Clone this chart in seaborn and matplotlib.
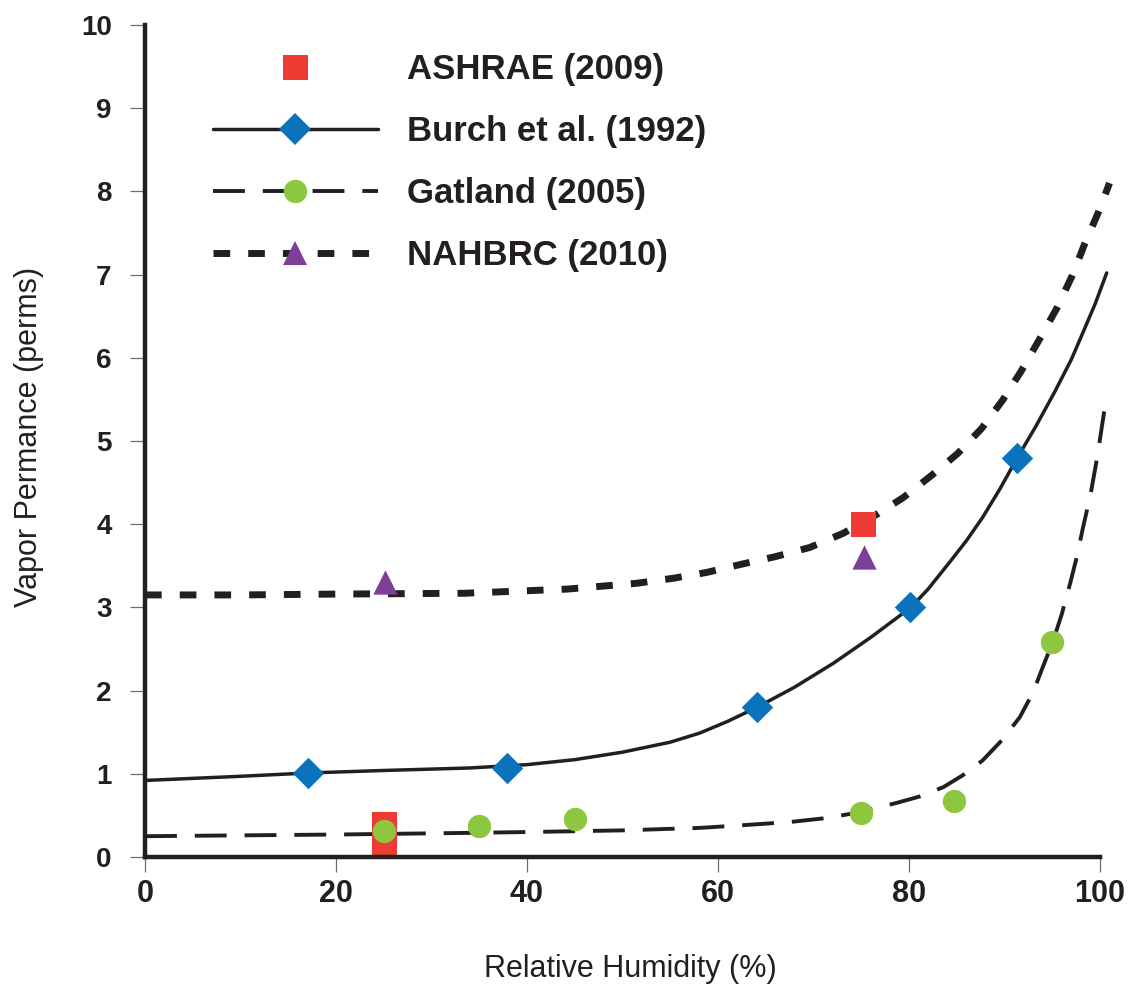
import matplotlib
matplotlib.use("Agg")
import matplotlib.pyplot as plt
from matplotlib.lines import Line2D
import seaborn as sns

# Measured data points (relative humidity %, vapor permeance perms)
ashrae_rh = [25, 25, 75.2]
ashrae_perm = [0.17, 0.40, 4.00]

burch_rh = [17.1, 37.9, 64.1, 80.1, 91.3]
burch_perm = [1.01, 1.07, 1.80, 3.00, 4.79]

gatland_rh = [25, 35, 45, 75, 84.7, 95]
gatland_perm = [0.31, 0.37, 0.46, 0.53, 0.67, 2.59]

nahbrc_rh = [25.1, 75.3]
nahbrc_perm = [3.31, 3.61]

# Trend curves
burch_curve_rh = [0, 10, 17.1, 25, 34, 40, 45, 50, 55, 58.1, 61, 64.1, 68, 72.1, 76,
                  80.2, 82, 84.3, 86, 87.7, 89.5, 91.3, 93.3, 95.3, 97, 98.2, 99.5, 100.7]
burch_curve_perm = [0.92, 0.97, 1.01, 1.04, 1.07, 1.11, 1.17, 1.26, 1.38, 1.49, 1.63,
                    1.80, 2.04, 2.33, 2.64, 3.00, 3.22, 3.55, 3.80, 4.08, 4.42, 4.79,
                    5.18, 5.60, 5.98, 6.30, 6.65, 7.02]

gatland_curve_rh = [0, 10, 20, 34, 40, 50, 58.1, 62.3, 67.5, 71.5, 74.9, 78.7, 81.2,
                    83.6, 85.6, 87.7, 89.7, 91.6, 93.0, 94.0, 95.1, 96.0, 96.9, 97.6,
                    98.2, 99.0, 99.7, 100.7]
gatland_curve_perm = [0.25, 0.26, 0.27, 0.29, 0.30, 0.32, 0.35, 0.38, 0.42, 0.47, 0.54,
                      0.65, 0.73, 0.84, 0.98, 1.16, 1.40, 1.68, 1.98, 2.28, 2.60, 2.92,
                      3.30, 3.62, 3.95, 4.35, 4.80, 5.55]

nahbrc_curve_rh = [0, 10, 20, 33.5, 44.2, 51.5, 55.3, 58.8, 62.5, 66, 69.6, 73.1, 76.8,
                   79.4, 82.4, 85.1, 87.6, 89.8, 91.8, 93.7, 95.5, 97.1, 98.4, 99.8, 101.0]
nahbrc_curve_perm = [3.15, 3.15, 3.16, 3.17, 3.22, 3.29, 3.35, 3.42, 3.52, 3.61, 3.72,
                     3.89, 4.13, 4.32, 4.59, 4.85, 5.15, 5.49, 5.85, 6.23, 6.60, 6.99,
                     7.37, 7.74, 8.10]

x_ticks = [0, 20, 40, 60, 80, 100]
y_ticks = [0, 1, 2, 3, 4, 5, 6, 7, 8, 9, 10]

labels = ["ASHRAE (2009)", "Burch et al. (1992)", "Gatland (2005)", "NAHBRC (2010)"]

RED = "#EE3B33"
BLUE = "#0B72BC"
GREEN = "#8DC63F"
PURPLE = "#7D3F98"
INK = "#231F20"

sns.set_theme(style="ticks")
plt.rcParams["font.family"] = ["Liberation Sans", "DejaVu Sans"]

fig = plt.figure(figsize=(11.28, 9.89), dpi=100)
ax = fig.add_axes([145 / 1128, 1 - 857 / 989, 955 / 1128, 832 / 989])

solid_lw = 2.5
gat_lw = 2.8
gat_dash = (8.2, 4.6)
nah_lw = 5.0
nah_dash = (2.4, 2.6)

# Curves
sns.lineplot(x=burch_curve_rh, y=burch_curve_perm, ax=ax, color=INK,
             linewidth=solid_lw, estimator=None)
sns.lineplot(x=gatland_curve_rh, y=gatland_curve_perm, ax=ax, color=INK,
             linewidth=gat_lw, estimator=None)
sns.lineplot(x=nahbrc_curve_rh, y=nahbrc_curve_perm, ax=ax, color=INK,
             linewidth=nah_lw, estimator=None)
l_burch, l_gat, l_nah = ax.lines[-3:]
l_gat.set_dashes(gat_dash)
l_gat.set_dash_capstyle("butt")
l_nah.set_dashes(nah_dash)
l_nah.set_dash_capstyle("butt")
for ln in (l_burch, l_gat, l_nah):
    ln.set_clip_on(False)
    ln.set_zorder(2)
    ln.set_solid_joinstyle("round")

# Markers
sns.scatterplot(x=ashrae_rh, y=ashrae_perm, ax=ax, marker="s", s=18 ** 2,
                color=RED, linewidth=0, zorder=3, clip_on=False)
sns.scatterplot(x=burch_rh, y=burch_perm, ax=ax, marker="D", s=16 ** 2,
                color=BLUE, linewidth=0, zorder=4, clip_on=False)
sns.scatterplot(x=gatland_rh, y=gatland_perm, ax=ax, marker="o", s=16.8 ** 2,
                color=GREEN, linewidth=0, zorder=4, clip_on=False)
sns.scatterplot(x=nahbrc_rh, y=nahbrc_perm, ax=ax, marker="^", s=17.5 ** 2,
                color=PURPLE, linewidth=0, zorder=4, clip_on=False)

ax.set_xlim(0, 100)
ax.set_ylim(0, 10)
ax.set_xticks(x_ticks)
ax.set_yticks(y_ticks)
ax.set_xticklabels([str(v) for v in x_ticks], fontsize=22, fontweight="bold", color=INK)
ax.set_yticklabels([str(v) for v in y_ticks], fontsize=20, fontweight="bold", color=INK)

sns.despine(ax=ax)
for side in ("left", "bottom"):
    ax.spines[side].set_linewidth(3.2)
    ax.spines[side].set_color(INK)
    ax.spines[side].set_zorder(5)

ax.tick_params(axis="y", direction="out", length=11, width=0.9, color="#6d6d6d", pad=13)
ax.tick_params(axis="x", direction="out", length=11, width=0.9, color="#6d6d6d", pad=5)

ax.set_xlabel("Relative Humidity (%)", fontsize=22, color=INK)
ax.set_ylabel("Vapor Permance (perms)", fontsize=22, color=INK)
ax.xaxis.set_label_coords(0.508, -0.116)
ax.yaxis.set_label_coords(-0.106, 0.505)

# Legend
handles = [
    Line2D([], [], linestyle="none", marker="s", markersize=18, color=RED,
           markeredgewidth=0),
    Line2D([], [], color=INK, linewidth=solid_lw, marker="D", markersize=16,
           markerfacecolor=BLUE, markeredgewidth=0),
    Line2D([], [], color=INK, linewidth=gat_lw, dashes=gat_dash, dash_capstyle="butt",
           marker="o", markersize=16.8, markerfacecolor=GREEN, markeredgewidth=0),
    Line2D([], [], color=INK, linewidth=nah_lw, dashes=nah_dash, dash_capstyle="butt",
           marker="^", markersize=17.5, markerfacecolor=PURPLE, markeredgewidth=0),
]
leg_size = 25
leg = ax.legend(handles, labels, loc="upper left",
                bbox_to_anchor=(213 / 1128, 1 - 53 / 989),
                bbox_transform=fig.transFigure, frameon=False, numpoints=1,
                handlelength=4.75, handletextpad=0.84, labelspacing=0.84,
                borderpad=0, borderaxespad=0,
                prop={"size": leg_size, "weight": "bold"})
for t in leg.get_texts():
    t.set_color(INK)

fig.savefig("out.png", dpi=100)
